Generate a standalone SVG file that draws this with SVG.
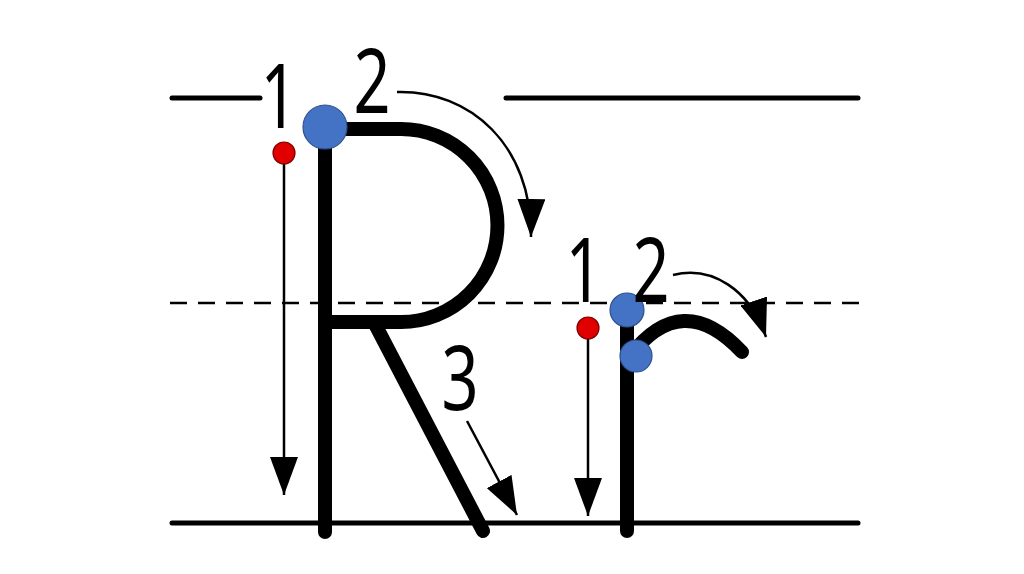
<svg xmlns="http://www.w3.org/2000/svg" width="1024" height="574" viewBox="0 0 1024 574">
<defs>
<marker id="ah" viewBox="0 0 10 10" refX="10" refY="5" markerWidth="38" markerHeight="28" markerUnits="userSpaceOnUse" orient="auto" preserveAspectRatio="none">
<path d="M0,0 L10,5 L0,10 z" fill="#000"/>
</marker>
<style>
.guide{stroke:#000;stroke-width:5;stroke-linecap:round;fill:none}
.dash{stroke:#000;stroke-width:2.5;stroke-dasharray:17 11;fill:none}
.stroke{stroke:#000;stroke-width:14;stroke-linecap:round;fill:none}
.arrow{stroke:#000;stroke-width:2.5;fill:none;marker-end:url(#ah)}
.red{fill:#e00000;stroke:#800000;stroke-width:1.2}
.blue{fill:#4472c4;stroke:#2f528f;stroke-width:1.2}
.num{font-family:"Noto Sans","Open Sans",sans-serif;font-size:90px;fill:#000;text-anchor:middle}
</style>
</defs>
<rect width="1024" height="574" fill="#fff"/>
<g id="guides">
<line class="guide" x1="172" y1="98" x2="260" y2="98"/>
<line class="guide" x1="506" y1="98" x2="858" y2="98"/>
<line class="dash" x1="170" y1="303" x2="860" y2="303"/>
<line class="guide" x1="172" y1="523" x2="858" y2="523"/>
</g>
<g id="letter-R">
<path class="stroke" d="M325,130 V532"/>
<path class="stroke" d="M325,129 H401 A96.5,96.5 0 0 1 401,322 H325"/>
<path class="stroke" d="M376,326 L483,531"/>
</g>
<g id="letter-r">
<path class="stroke" d="M627,312 V531"/>
<path class="stroke" d="M630,356 Q682,288 742,352"/>
</g>
<g id="connectors">
<path class="arrow" d="M284,160 V495"/>
<path class="arrow" d="M397,92 C470,90 532,145 531,237"/>
<path class="arrow" d="M467,421 L517,515"/>
<path class="arrow" d="M588,335 V516"/>
<path class="arrow" d="M673,275 C712,265 750,290 766,337"/>
</g>
<g id="dots">
<circle class="red" cx="284" cy="153" r="11"/>
<circle class="blue" cx="325" cy="127" r="22"/>
<circle class="red" cx="588" cy="328" r="11"/>
<circle class="blue" cx="627" cy="310" r="17"/>
<circle class="blue" cx="636" cy="356" r="16"/>
</g>
<g id="labels">
<text class="num" transform="translate(279,128) scale(0.72,1)">1</text>
<text class="num" transform="translate(372,113) scale(0.72,1)">2</text>
<text class="num" transform="translate(460,410) scale(0.72,1)">3</text>
<text class="num" transform="translate(584,302) scale(0.72,1)">1</text>
<text class="num" transform="translate(651,302) scale(0.72,1)">2</text>
</g>
</svg>
